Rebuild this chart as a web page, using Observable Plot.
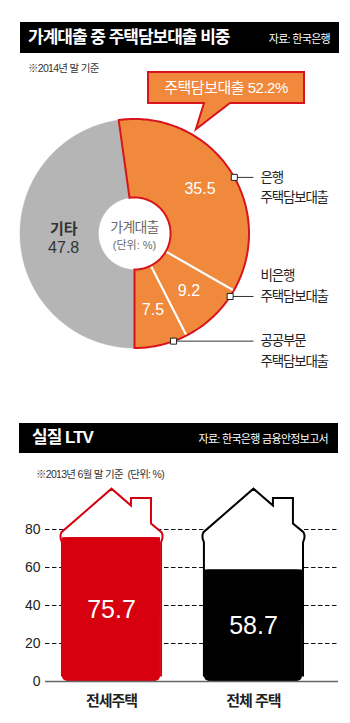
<!DOCTYPE html>
<html lang="ko">
<head>
<meta charset="utf-8">
<script src="https://cdn.jsdelivr.net/npm/d3@7"></script>
<script src="https://cdn.jsdelivr.net/npm/@observablehq/plot@0.6"></script>
<style>
html,body{margin:0;padding:0;background:#fff;}
#page{position:relative;width:350px;height:723px;overflow:hidden;font-family:"Liberation Sans","Noto Sans CJK KR",sans-serif;color:#222;}
.tbar{position:absolute;background:#000;color:#fff;display:flex;justify-content:space-between;align-items:baseline;box-sizing:border-box;}
.tbar .t{font-size:17px;font-weight:bold;letter-spacing:-1px;white-space:pre;}
.tbar .s{font-size:11px;letter-spacing:-0.7px;white-space:pre;}
.note{position:absolute;font-size:10.5px;line-height:14px;letter-spacing:-0.7px;color:#333;white-space:pre;}
.chart{position:absolute;left:0;}
.chart svg{display:block;overflow:visible;}
g[aria-description="annot"] text{letter-spacing:-1.2px;}
g[aria-description="center"] text{letter-spacing:-0.8px;}
g[aria-description="callout"] text{letter-spacing:-0.5px;}
g[aria-label="x-axis tick label"] text{letter-spacing:-1px;}
</style>
</head>
<body>
<div id="page">
  <div class="tbar" id="t1" style="left:20px;top:21.5px;width:319px;height:31.5px;padding:0 9px 0 8px;"></div>
  <div class="note" id="n1" style="left:28px;top:60.5px;"></div>
  <div class="chart" id="donut" style="top:55px;"></div>
  <div class="tbar" id="t2" style="left:19px;top:423px;width:319px;height:30px;padding:0 10px 0 13px;"></div>
  <div class="note" id="n2" style="left:36px;top:467px;"></div>
  <div class="chart" id="ltv" style="top:475px;"></div>
</div>
<script>
// ---------------- data ----------------
const donutTitle = "가계대출 중 주택담보대출 비중";
const donutSource = "자료: 한국은행";
const donutNote = "※2014년 말 기준";
const sliceNames = ["은행", "비은행", "공공부문", "기타"];
const sliceValues = [35.5, 9.2, 7.5, 47.8];
const isMortgage = [true, true, true, false];
const mortgageLabel = "주택담보대출";
const centerLines = ["가계대출", "(단위: %)"];

const ltvTitle = "실질 LTV";
const ltvSource = "자료: 한국은행 금융안정보고서";
const ltvNote = "※2013년 6월 말 기준  (단위: %)";
const ltvCategories = ["전세주택", "전체 주택"];
const ltvValues = [75.7, 58.7];
const ltvTicks = [0, 20, 40, 60, 80];

// ---------------- styles ----------------
const FONT = '"Liberation Sans","Noto Sans CJK KR",sans-serif';
const NARROW = '"Liberation Sans Narrow","Arial Narrow","Liberation Sans","Noto Sans CJK KR",sans-serif';
const GRAY = "#b5b5b5", ORANGE = "#f0893c", RED_LINE = "#d8141c";
const barColors = ["#d7000f", "#000000"];

// ---------------- headers ----------------
function header(el, title, source) {
  const t = document.createElement("span"); t.className = "t"; t.textContent = title;
  t.style.lineHeight = el.style.height;
  const s = document.createElement("span"); s.className = "s"; s.textContent = source;
  el.append(t, s);
}
header(document.getElementById("t1"), donutTitle, donutSource);
header(document.getElementById("t2"), ltvTitle, ltvSource);
document.getElementById("n1").textContent = donutNote;
document.getElementById("n2").textContent = ltvNote;

// ---------------- donut ----------------
const total = d3.sum(sliceValues);
const mortTotal = d3.sum(sliceValues.filter((v, i) => isMortgage[i]));
const startA = Math.PI * (1 - 2 * mortTotal / total);
const arcs = d3.pie().sort(null).startAngle(startA).endAngle(startA + 2 * Math.PI)(sliceValues);
const R = 1, R0 = 0.315;
const pt = (r, a) => ({x: r * Math.sin(a), y: r * Math.cos(a)});
function arcPts(r, s, e, n) { const o = []; for (let k = 0; k <= n; k++) o.push(pt(r, s + (e - s) * k / n)); return o; }
function ringPoly(s, e, id) {
  const n = Math.max(8, Math.ceil((e - s) / 0.02));
  return [...arcPts(R, s, e, n), ...arcPts(R0, e, s, n)].map(p => ({...p, id}));
}
const mArcs = arcs.filter(a => isMortgage[a.index]);
const oArcs = arcs.filter(a => !isMortgage[a.index]);
const grayPoly = oArcs.flatMap(a => ringPoly(a.startAngle, a.endAngle, a.index));
const orangePoly = mArcs.flatMap(a => ringPoly(a.startAngle, a.endAngle, a.index));
const mStart = d3.min(mArcs, a => a.startAngle), mEnd = d3.max(mArcs, a => a.endAngle);
const outline = ringPoly(mStart, mEnd, "o"); outline.push(outline[0]);
const seps = mArcs.slice(0, -1).map(a => ({p: pt(R0, a.endAngle), q: pt(R, a.endAngle)}));
const mid = a => (a.startAngle + a.endAngle) / 2;
const valueLabels = mArcs.map(a => ({...pt(0.69, mid(a)), t: sliceValues[a.index].toFixed(1)}));
const otherLabels = oArcs.map(a => ({...pt(0.62, mid(a)), name: sliceNames[a.index], t: sliceValues[a.index].toFixed(1)}));

const PXU = 114.5, CX = 134, CY = 233 - 55, W = 350, H = 330;
// annotation rows (radius units) for each mortgage slice, and which text line sits at the marker
const annotLayout = [{y: 0.49, line: 0}, {y: -0.55, line: 1}, {y: -0.94, line: 0}];
const annotTextX = (260 - CX) / PXU, annotLineEnd = (253 - CX) / PXU, LH = 20.5 / PXU;
const annots = mArcs.map((a, k) => ({y: annotLayout[k].y, x: Math.sqrt(R * R - annotLayout[k].y ** 2), line: annotLayout[k].line, idx: a.index}));
const annotText = annots.flatMap(d => [sliceNames[d.idx], mortgageLabel].map((t, j) => ({t, y: d.y - (j - d.line) * LH})));

const calloutText = `${mortgageLabel} ${mortTotal.toFixed(1)}%`;
function callout(index, scales) {
  const tipA = mStart + 0.206 * (mEnd - mStart);
  const tip = pt(1.055, tipA);
  const tx = scales.x(tip.x), ty = scales.y(tip.y);
  const g = d3.create("svg:g").attr("aria-description", "callout");
  g.append("path")
    .attr("d", `M148,17H304V48H230L${tx},${ty}L204,48H148Z`)
    .attr("fill", ORANGE).attr("stroke", RED_LINE).attr("stroke-width", 2).attr("stroke-linejoin", "miter");
  g.append("text").attr("x", 226).attr("y", 33).attr("dy", "0.36em").attr("text-anchor", "middle")
    .attr("fill", "#fff").attr("font-size", 15).attr("font-family", FONT).text(calloutText);
  return g.node();
}

const donut = Plot.plot({
  width: W, height: H, margin: 0,
  x: {domain: [-CX / PXU, (W - CX) / PXU], axis: null},
  y: {domain: [-(H - CY) / PXU, CY / PXU], axis: null},
  style: {fontFamily: FONT, background: "transparent", overflow: "visible"},
  marks: [
    Plot.line(grayPoly, {x: "x", y: "y", z: "id", fill: GRAY, stroke: GRAY, strokeWidth: 0.5}),
    Plot.line(orangePoly, {x: "x", y: "y", z: "id", fill: ORANGE, stroke: ORANGE, strokeWidth: 0.5}),
    Plot.link(seps, {x1: d => d.p.x, y1: d => d.p.y, x2: d => d.q.x, y2: d => d.q.y, stroke: "#fff", strokeWidth: 2.2}),
    Plot.line(outline, {x: "x", y: "y", stroke: RED_LINE, strokeWidth: 2, strokeLinejoin: "miter", strokeMiterlimit: 10}),
    callout,
    Plot.text(valueLabels, {x: "x", y: "y", text: "t", fill: "#fff", fontSize: 16}),
    Plot.text(otherLabels, {x: "x", y: "y", text: "name", dy: -9.5, fill: "#333", fontSize: 15, fontWeight: "bold"}),
    Plot.text(otherLabels, {x: "x", y: "y", text: "t", dy: 9.5, fill: "#333", fontSize: 16}),
    Plot.text([centerLines[0]], {x: () => 0, y: () => 0, text: d => d, dy: -6, fill: "#6b6b6b", fontSize: 14, ariaDescription: "center"}),
    Plot.text([centerLines[1]], {x: () => 0, y: () => 0, text: d => d, dy: 12, fill: "#6b6b6b", fontSize: 11}),
    Plot.link(annots, {x1: "x", y1: "y", x2: () => annotLineEnd, y2: "y", stroke: "#333", strokeWidth: 1}),
    Plot.dot(annots, {x: "x", y: "y", symbol: "square", r: 3.4, fill: "#fff", stroke: "#222", strokeWidth: 1}),
    Plot.text(annotText, {x: () => annotTextX, y: "y", text: "t", textAnchor: "start", fill: "#222", fontSize: 13.5, ariaDescription: "annot"})
  ]
});
document.getElementById("donut").append(donut);

// ---------------- LTV bars ----------------
const ltvRows = ltvCategories.map((c, i) => ({i, c, v: ltvValues[i]}));
const BW = 0.345;
// house outline glyph: [x offset in category units, y in value units]
const houseShape = [[-0.349, 3], [-0.349, 73.2], [-0.359, 75.5], [-0.359, 77.3], [-0.352, 78.6], [0, 101.5],
  [0.137, 92.6], [0.137, 96.6], [0.278, 96.6], [0.278, 83.2], [0.352, 78.6], [0.359, 77.3], [0.359, 75.5],
  [0.349, 73.2], [0.349, 3]];

const ltvPlot = Plot.plot({
  width: 350, height: 248,
  marginLeft: 45, marginRight: 12, marginTop: 16, marginBottom: 42,
  x: {domain: [-0.465, 1.599], label: null},
  y: {domain: [0, 100], label: null},
  style: {fontFamily: FONT, background: "transparent", overflow: "visible", color: "#222"},
  marks: [
    Plot.gridY(ltvTicks.filter(t => t > 0), {stroke: "#111", strokeOpacity: 1, strokeWidth: 1, strokeDasharray: "4.5,2.5"}),
    ...ltvRows.map(d => Plot.line(houseShape.map(([dx, y]) => ({x: d.i + dx, y})),
      {x: "x", y: "y", fill: "#fff", stroke: barColors[d.i], strokeWidth: 2, strokeLinejoin: "miter", strokeMiterlimit: 10})),
    ...ltvRows.map(d => Plot.rect([d], {x1: r => r.i - BW, x2: r => r.i + BW, y1: () => 0, y2: "v", fill: barColors[d.i], rx: 5})),
    ...ltvRows.map(d => Plot.rect([d], {x1: r => r.i - BW, x2: r => r.i + BW, y1: r => r.v / 2, y2: "v", fill: barColors[d.i]})),
    Plot.ruleY([0], {stroke: "#666", strokeWidth: 1.5}),
    Plot.text(ltvRows, {x: "i", y: d => d.v / 2, text: d => d.v.toFixed(1), fill: "#fff", fontSize: 25, fontFamily: NARROW}),
    Plot.axisY({ticks: ltvTicks, tickSize: 0, tickPadding: 5, fontSize: 14, fill: "#222"}),
    Plot.axisX({ticks: ltvRows.map(d => d.i), tickFormat: i => ltvCategories[i], tickSize: 0, tickPadding: 14, fontSize: 15, fontWeight: "bold", fill: "#222"})
  ]
});
document.getElementById("ltv").append(ltvPlot);
</script>
</body>
</html>
